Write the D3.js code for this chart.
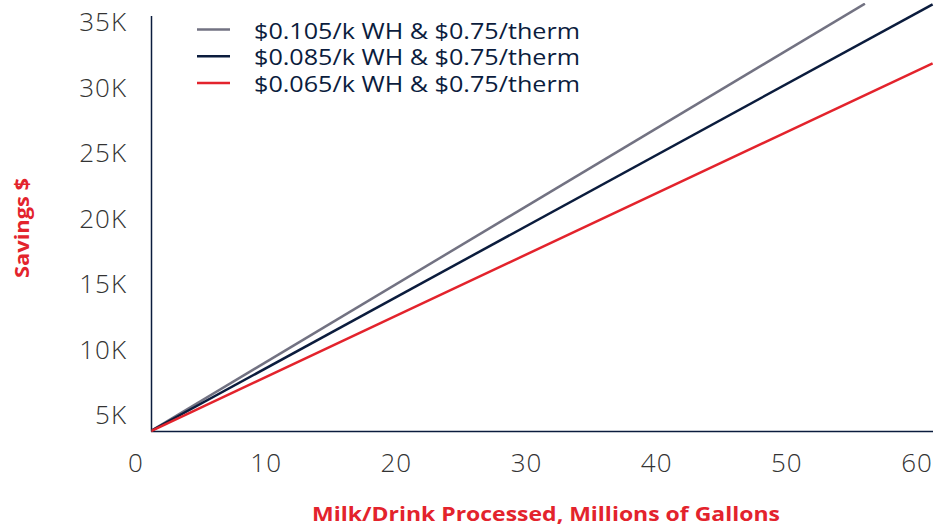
<!DOCTYPE html>
<html>
<head>
<meta charset="utf-8">
<script src="https://cdn.jsdelivr.net/npm/d3@7"></script>
<style>
  body { margin: 0; background: #fff; }
  svg { display: block; font-family: "Open Sans", sans-serif; }
</style>
</head>
<body>
<svg id="chart" width="948" height="527"></svg>
<script>
// series: savings lines (start / end points)
const seriesNames = [
  "$0.105/k WH & $0.75/therm",
  "$0.085/k WH & $0.75/therm",
  "$0.065/k WH & $0.75/therm"
];
const seriesColors = ["#727282", "#0b1c3d", "#e3232c"];
const gallons105 = [1, 56.0];
const savings105 = [3700, 36400];
const gallons085 = [1, 61.2];
const savings085 = [3700, 36350];
const gallons065 = [1, 61.2];
const savings065 = [3700, 31850];

const xTicks = [0, 10, 20, 30, 40, 50, 60];
const yTicks = [5000, 10000, 15000, 20000, 25000, 30000, 35000];

const svg = d3.select("#chart");

const x = d3.scaleLinear().domain([0, 60]).range([136, 917]);
const y = d3.scaleLinear().domain([5000, 35000]).range([415, 22]);

const plotLeft = 151.5, plotRight = 933, plotTop = 16, plotBottom = 431.5;

svg.append("defs").append("clipPath").attr("id", "plotClip")
  .append("rect")
  .attr("x", plotLeft).attr("y", 3)
  .attr("width", plotRight - plotLeft + 5).attr("height", plotBottom - 3 + 2);

// axis lines
svg.append("line")
  .attr("x1", plotLeft).attr("x2", plotLeft)
  .attr("y1", plotTop).attr("y2", plotBottom)
  .attr("stroke", "#0b1c3d").attr("stroke-width", 1.5);
svg.append("line")
  .attr("x1", plotLeft).attr("x2", plotRight)
  .attr("y1", plotBottom).attr("y2", plotBottom)
  .attr("stroke", "#0b1c3d").attr("stroke-width", 1.5);

// tick labels
svg.append("g").selectAll("text").data(xTicks).join("text")
  .attr("x", d => x(d))
  .attr("y", 472)
  .attr("text-anchor", "middle")
  .attr("font-size", 26)
  .attr("font-weight", 300)
  .attr("letter-spacing", 1)
  .attr("fill", "#333")
  .text(d => d);

svg.append("g").selectAll("text").data(yTicks).join("text")
  .attr("x", 127)
  .attr("y", d => y(d) + 9)
  .attr("text-anchor", "end")
  .attr("font-size", 26)
  .attr("font-weight", 300)
  .attr("letter-spacing", 1)
  .attr("fill", "#333")
  .text(d => d3.format("~s")(d).replace("k", "K"));

// lines
const series = [
  { name: seriesNames[0], color: seriesColors[0], xs: gallons105, ys: savings105 },
  { name: seriesNames[1], color: seriesColors[1], xs: gallons085, ys: savings085 },
  { name: seriesNames[2], color: seriesColors[2], xs: gallons065, ys: savings065 }
];

const line = d3.line().x(d => x(d[0])).y(d => y(d[1]));

svg.append("g").attr("clip-path", "url(#plotClip)")
  .selectAll("path").data(series).join("path")
  .attr("d", s => line(s.xs.map((v, i) => [v, s.ys[i]])))
  .attr("fill", "none")
  .attr("stroke", s => s.color)
  .attr("stroke-width", 2.5);

// legend
const legend = svg.append("g").selectAll("g").data(series).join("g")
  .attr("transform", (d, i) => `translate(197, ${29.5 + i * 26.8})`);
legend.append("line")
  .attr("x1", 0).attr("x2", 33)
  .attr("stroke", d => d.color).attr("stroke-width", 2.5);
legend.append("text")
  .attr("x", 57).attr("y", 9)
  .attr("font-size", 21)
  .attr("fill", "#0b1c3d")
  .attr("textLength", 326)
  .attr("lengthAdjust", "spacingAndGlyphs")
  .text(d => d.name);

// axis titles
svg.append("text")
  .attr("x", 546).attr("y", 521)
  .attr("text-anchor", "middle")
  .attr("font-size", 19)
  .attr("font-weight", 700)
  .attr("fill", "#e3232c")
  .attr("textLength", 468)
  .attr("lengthAdjust", "spacingAndGlyphs")
  .text("Milk/Drink Processed, Millions of Gallons");

svg.append("text")
  .attr("transform", "translate(29, 228) rotate(-90)")
  .attr("text-anchor", "middle")
  .attr("font-size", 19)
  .attr("font-weight", 700)
  .attr("fill", "#e3232c")
  .attr("textLength", 100)
  .attr("lengthAdjust", "spacingAndGlyphs")
  .text("Savings $");
</script>
</body>
</html>
